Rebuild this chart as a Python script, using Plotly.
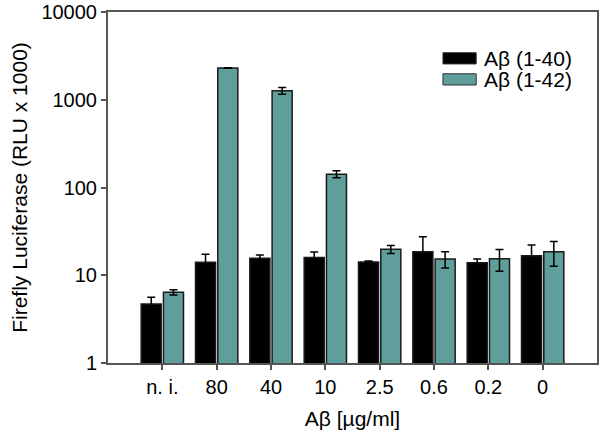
import plotly.graph_objects as go

categories = ["n. i.", "80", "40", "10", "2.5", "0.6", "0.2", "0"]
ab40 = [4.7, 14.1, 15.6, 15.9, 14.2, 18.5, 13.9, 16.7]
ab40_err = [0.9, 3.3, 1.4, 2.5, 0.3, 9.0, 1.4, 5.4]
ab42 = [6.4, 2300, 1268, 142, 19.8, 15.3, 15.4, 18.5]
ab42_err = [0.45, 20, 115, 13, 2.1, 3.2, 4.3, 5.8]
series_names = ["A\u03b2 (1-40)", "A\u03b2 (1-42)"]
colors = ["#000000", "#5f9e9b"]

FONT = "Liberation Sans, Arial, sans-serif"

fig = go.Figure()
for name, vals, errs, col in [(series_names[0], ab40, ab40_err, colors[0]),
                              (series_names[1], ab42, ab42_err, colors[1])]:
    fig.add_trace(go.Bar(
        x=categories, y=vals, name=name,
        marker=dict(color=col, line=dict(color="#1a1a1a", width=1.5)),
        error_y=dict(type="data", array=errs, visible=True, color="#000000",
                     thickness=1.5, width=4),
        showlegend=False,
    ))

fig.update_layout(
    width=600, height=441,
    margin=dict(l=108, r=3, t=12, b=78, autoexpand=False),
    plot_bgcolor="white", paper_bgcolor="white",
    barmode="group", bargap=0.18, bargroupgap=0.1,
    font=dict(family=FONT, size=20, color="#000000"),
)
fig.update_xaxes(
    type="category", range=[-1, 8],
    showline=True, linecolor="#555555", linewidth=2, mirror=True,
    ticks="outside", ticklen=5, tickcolor="#555555", tickwidth=1.5,
    tickfont=dict(size=20),
    title=dict(text="A\u03b2 [\u00b5g/ml]", font=dict(size=21), standoff=14),
    showgrid=False, automargin=False,
)
fig.update_yaxes(
    type="log", range=[0, 4],
    tickvals=[1, 10, 100, 1000, 10000],
    ticktext=["1", "10", "100", "1000", "10000"],
    ticklabeloverflow="allow",
    showline=True, linecolor="#555555", linewidth=2, mirror=True,
    ticks="outside", ticklen=5, tickcolor="#555555", tickwidth=1.5,
    tickfont=dict(size=20),
    title=dict(text="Firefly Luciferase (RLU x 1000)", font=dict(size=21), standoff=8),
    showgrid=False, zeroline=False, automargin=False,
)

# custom legend (wide swatches like the original)
legend_rows = [(0.868, colors[0], series_names[0]), (0.808, colors[1], series_names[1])]
for yc, col, name in legend_rows:
    fig.add_shape(type="rect", xref="paper", yref="paper",
                  x0=0.685, x1=0.753, y0=yc - 0.016, y1=yc + 0.016,
                  fillcolor=col, line=dict(color="#333333", width=1))
    fig.add_annotation(xref="paper", yref="paper", x=0.765, y=yc,
                       text=name, showarrow=False, xanchor="left", yanchor="middle",
                       font=dict(size=21, family=FONT))

fig.write_html("out.html",
               config={"displayModeBar": False},
               post_script="document.body.style.margin='0';document.body.style.overflow='hidden';")
